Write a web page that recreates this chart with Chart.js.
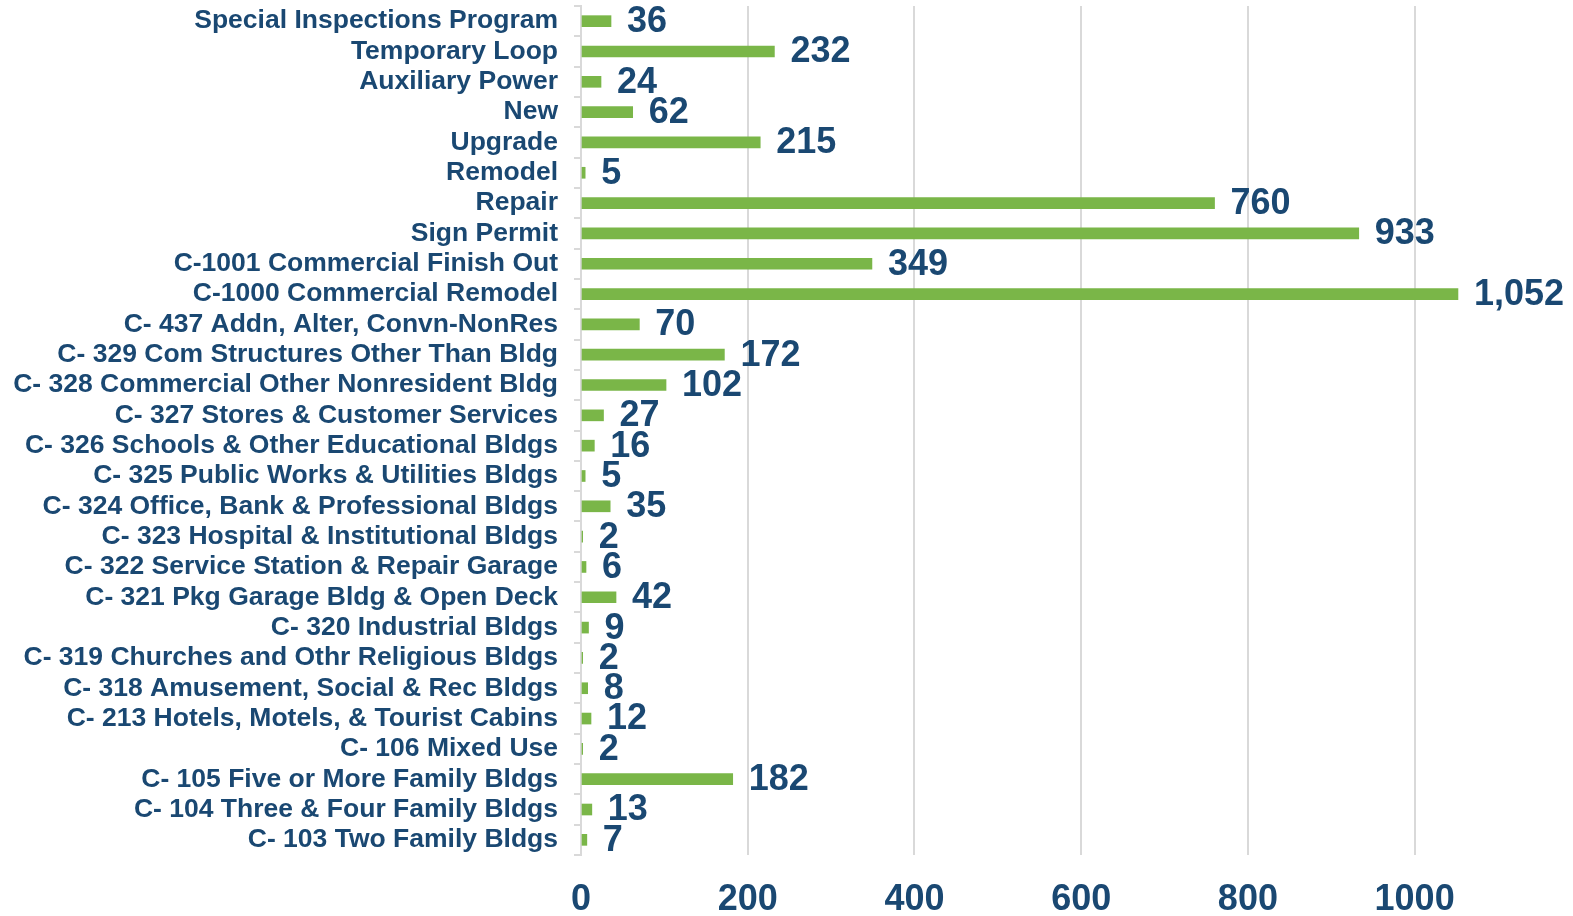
<!DOCTYPE html>
<html>
<head>
<meta charset="utf-8">
<script src="https://cdn.jsdelivr.net/npm/chart.js@4"></script>
<style>
    html, body { margin: 0; padding: 0; background: #ffffff; overflow: hidden; }
    #wrap { width: 1573px; height: 916px; }
</style>
</head>
<body>
<div id="wrap"><canvas id="permitsChart"></canvas></div>
<script>
const categories = [
    'Special Inspections Program',
    'Temporary Loop',
    'Auxiliary Power',
    'New',
    'Upgrade',
    'Remodel',
    'Repair',
    'Sign Permit',
    'C-1001 Commercial Finish Out',
    'C-1000 Commercial Remodel',
    'C- 437 Addn, Alter, Convn-NonRes',
    'C- 329 Com Structures Other Than Bldg',
    'C- 328 Commercial Other Nonresident Bldg',
    'C- 327 Stores & Customer Services',
    'C- 326 Schools & Other Educational Bldgs',
    'C- 325 Public Works & Utilities Bldgs',
    'C- 324 Office, Bank & Professional Bldgs',
    'C- 323 Hospital & Institutional Bldgs',
    'C- 322 Service Station & Repair Garage',
    'C- 321 Pkg Garage Bldg & Open Deck',
    'C- 320 Industrial Bldgs',
    'C- 319 Churches and Othr Religious Bldgs',
    'C- 318 Amusement, Social & Rec Bldgs',
    'C- 213 Hotels, Motels, & Tourist Cabins',
    'C- 106 Mixed Use',
    'C- 105 Five or More Family Bldgs',
    'C- 104 Three & Four Family Bldgs',
    'C- 103 Two Family Bldgs'
];

const permitCounts = [36, 232, 24, 62, 215, 5, 760, 933, 349, 1052, 70, 172, 102, 27, 16, 5, 35, 2, 6, 42, 9, 2, 8, 12, 2, 182, 13, 7];

const xTicks = [0, 200, 400, 600, 800, 1000];

const NAVY = '#1a4872';
const GREEN = '#7ab648';
const GRID = '#d9d9d9';

// etiquetas de valor a la derecha de cada barra
const valueLabels = {
    id: 'valueLabels',
    afterDatasetsDraw(chart) {
        const ctx = chart.ctx;
        const meta = chart.getDatasetMeta(0);
        ctx.save();
        ctx.font = 'bold 36px "Liberation Sans", Arial, sans-serif';
        ctx.fillStyle = NAVY;
        ctx.textAlign = 'left';
        ctx.textBaseline = 'middle';
        meta.data.forEach((bar, i) => {
            const val = chart.data.datasets[0].data[i];
            ctx.fillText(val.toLocaleString('en-US'), bar.x + 16, bar.y + 1);
        });
        ctx.restore();
    }
};

const ctx = document.getElementById('permitsChart').getContext('2d');

new Chart(ctx, {
    type: 'bar',
    data: {
        labels: categories,
        datasets: [{
            data: permitCounts,
            backgroundColor: GREEN,
            barThickness: 11
        }]
    },
    options: {
        indexAxis: 'y',
        responsive: true,
        maintainAspectRatio: false,
        animation: false,
        layout: { padding: { top: 6, right: 0, left: 0, bottom: 0 } },
        plugins: {
            legend: { display: false },
            tooltip: { enabled: false }
        },
        scales: {
            x: {
                min: 0,
                max: 1190,
                afterBuildTicks: (scale) => {
                    scale.ticks = xTicks.map(v => ({ value: v }));
                },
                afterFit: (scale) => {
                    scale.height = 61;
                    scale.paddingLeft = 0;
                    scale.paddingRight = 0;
                },
                grid: { color: GRID, lineWidth: 2, drawTicks: false },
                border: { display: false },
                ticks: {
                    padding: 23,
                    color: NAVY,
                    callback: (value) => String(value),
                    font: { family: '"Liberation Sans", Arial, sans-serif', size: 36, weight: 'bold' }
                }
            },
            y: {
                afterFit: (scale) => {
                    scale.width = 581;
                    scale.paddingTop = 0;
                    scale.paddingBottom = 0;
                },
                grid: { offset: true, drawOnChartArea: false, tickLength: 7, color: GRID, lineWidth: 2 },
                border: { display: true, color: GRID, width: 2 },
                ticks: {
                    padding: 16,
                    autoSkip: false,
                    color: NAVY,
                    font: { family: '"Liberation Sans", Arial, sans-serif', size: 26.5, weight: 'bold' }
                }
            }
        }
    },
    plugins: [valueLabels]
});
</script>
</body>
</html>
